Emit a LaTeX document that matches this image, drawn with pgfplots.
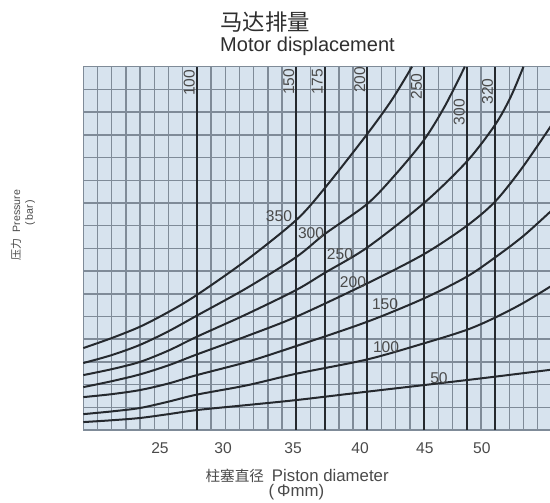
\documentclass[border=0pt]{standalone}
\usepackage{fontspec}
\setmainfont{Liberation Sans}
\newfontfamily\cjk{Noto Sans CJK SC}
\usepackage{pgfplots}
\pgfplotsset{compat=1.18}
\definecolor{bgblue}{HTML}{D7E3EE}
\definecolor{gridc}{HTML}{7F8B98}
\definecolor{inkc}{HTML}{25292E}
\definecolor{txtc}{HTML}{4A4A4A}
\definecolor{titc}{HTML}{2E2E2E}
\begin{document}
\begin{tikzpicture}
\begin{axis}[
  scale only axis, width=234.3pt, height=181.65pt,
  xmin=0, xmax=33, ymin=0, ymax=16,
  axis background/.style={fill=bgblue},
  axis line style={gridc, line width=0.7pt},
  xtick={5.4,9.84,14.77,19.5,24.06,28.07},
  xticklabels={25,30,35,40,45,50},
  ytick={1,...,15}, yticklabels={},
  ymajorgrids=true,
  major grid style={gridc, line width=0.75pt},
  major tick length=0pt,
  minor xtick={1,...,32},
  minor tick length=0pt,
  xminorgrids=true,
  minor grid style={gridc, line width=0.7pt},
  xticklabel style={font=\fontsize{7.8}{9}\selectfont, text=txtc, anchor=center, yshift=-9pt},
  /pgf/number format/assume math mode=true,
  clip=false,
]
% displacement lines (piston diameter positions)
\addplot[inkc, line width=1pt] coordinates {(8,0) (8,16)};
\addplot[inkc, line width=1pt] coordinates {(15,0) (15,16)};
\addplot[inkc, line width=1pt] coordinates {(17,0) (17,16)};
\addplot[inkc, line width=1pt] coordinates {(20,0) (20,16)};
\addplot[inkc, line width=1pt] coordinates {(24,0) (24,16)};
\addplot[inkc, line width=1pt] coordinates {(27,0) (27,16)};
\addplot[inkc, line width=1pt] coordinates {(29,0) (29,16)};
% pressure curves
\addplot[inkc, line width=1pt, smooth] coordinates {(0,3.61) (2,4.05) (3.99,4.55) (6,5.2) (8,5.95) (11.53,7.5) (15,9.25) (17,10.65) (20,13.04) (21.74,14.55) (23.15,16)};
\addplot[inkc, line width=1pt, smooth] coordinates {(0,2.95) (2,3.3) (3.99,3.75) (6,4.35) (8,5.04) (11.53,6.26) (15,7.62) (17,8.63) (20,9.96) (21.95,11.23) (24,12.78) (25.47,14.27) (26.87,16)};
\addplot[inkc, line width=1pt, smooth] coordinates {(0,2.42) (2,2.68) (3.99,3.0) (6,3.5) (8,4.11) (11.53,5.11) (15,6.17) (17,6.92) (20,8.04) (24,10.0) (27,11.82) (29,13.44) (30.1,14.67) (31,16)};
\addplot[inkc, line width=1pt, smooth] coordinates {(0,1.89) (2,2.15) (3.99,2.45) (6,2.85) (8,3.33) (11.53,4.14) (15,4.99) (20,6.46) (24,7.75) (27,8.99) (29,10.06) (30.9,11.54) (33,13.45)};
\addplot[inkc, line width=1pt, smooth] coordinates {(0,1.45) (2,1.58) (3.99,1.76) (6,2.05) (8,2.42) (11.53,3.0) (15,3.70) (20,4.77) (24,5.80) (27,6.75) (29,7.6) (31,8.55) (33,9.68)};
\addplot[inkc, line width=1pt, smooth] coordinates {(0,0.70) (2,0.82) (3.99,0.97) (6,1.25) (8,1.56) (11.53,1.97) (15,2.48) (20,3.11) (24,3.82) (27,4.41) (29,4.95) (31,5.6) (33,6.36)};
\addplot[inkc, line width=1pt, smooth] coordinates {(0,0.35) (2,0.43) (3.99,0.53) (6,0.7) (8,0.88) (11.53,1.10) (15,1.32) (20,1.69) (24,1.98) (27,2.20) (29,2.35) (33,2.66)};
% labels of vertical lines
\begin{scope}[every node/.style={rotate=90, anchor=south, inner sep=0.8pt, font=\fontsize{7.8}{9}\selectfont, text=txtc}]
\node at (axis cs:8,15.29) {100};
\node at (axis cs:15,15.33) {150};
\node at (axis cs:17,15.33) {175};
\node at (axis cs:20,15.42) {200};
\node at (axis cs:24,15.13) {250};
\node at (axis cs:27,14.0) {300};
\node at (axis cs:29,14.91) {320};
\end{scope}
% labels of curves
\begin{scope}[every node/.style={inner sep=0pt, font=\fontsize{7.8}{9}\selectfont, text=txtc}]
\node at (axis cs:13.78,9.43) {350};
\node at (axis cs:16.04,8.68) {300};
\node at (axis cs:18.08,7.75) {250};
\node at (axis cs:18.99,6.52) {200};
\node at (axis cs:21.25,5.55) {150};
\node at (axis cs:21.32,3.66) {100};
\node at (axis cs:25.05,2.29) {50};
\end{scope}
% titles
\node[text=titc, font=\cjk\fontsize{11.2}{13}\selectfont] at (axis cs:12.8,17.95) {马达排量};
\node[text=titc, font=\fontsize{10}{12}\selectfont] at (axis cs:15.79,16.92) {Motor displacement};
% x label
\node[text=txtc, font=\fontsize{8.4}{10}\selectfont] at (axis cs:15.06,-2.03) {{\cjk\fontsize{7.3}{9}\selectfont 柱塞直径}\hspace{4pt}Piston diameter};
\node[text=txtc, font=\fontsize{8.4}{10}\selectfont] at (axis cs:15.01,-2.73) {(\,Φmm)};
% y label
\node[rotate=90, text=txtc, font=\fontsize{5.3}{6.5}\selectfont] at (axis cs:-4.74,9.03) {{\cjk\fontsize{5.5}{6.5}\selectfont 压力}\hspace{3pt}Pressure};
\node[rotate=90, text=txtc, font=\fontsize{5.3}{6.5}\selectfont] at (axis cs:-3.75,9.58) {(\,bar\,)};
\coordinate (bbLL) at (axis cs:-5.866,-3.17);
\coordinate (bbUR) at (axis cs:32.87,18.94);
\end{axis}
\pgfresetboundingbox
\path[use as bounding box] (bbLL) rectangle (bbUR);
\end{tikzpicture}
\end{document}
